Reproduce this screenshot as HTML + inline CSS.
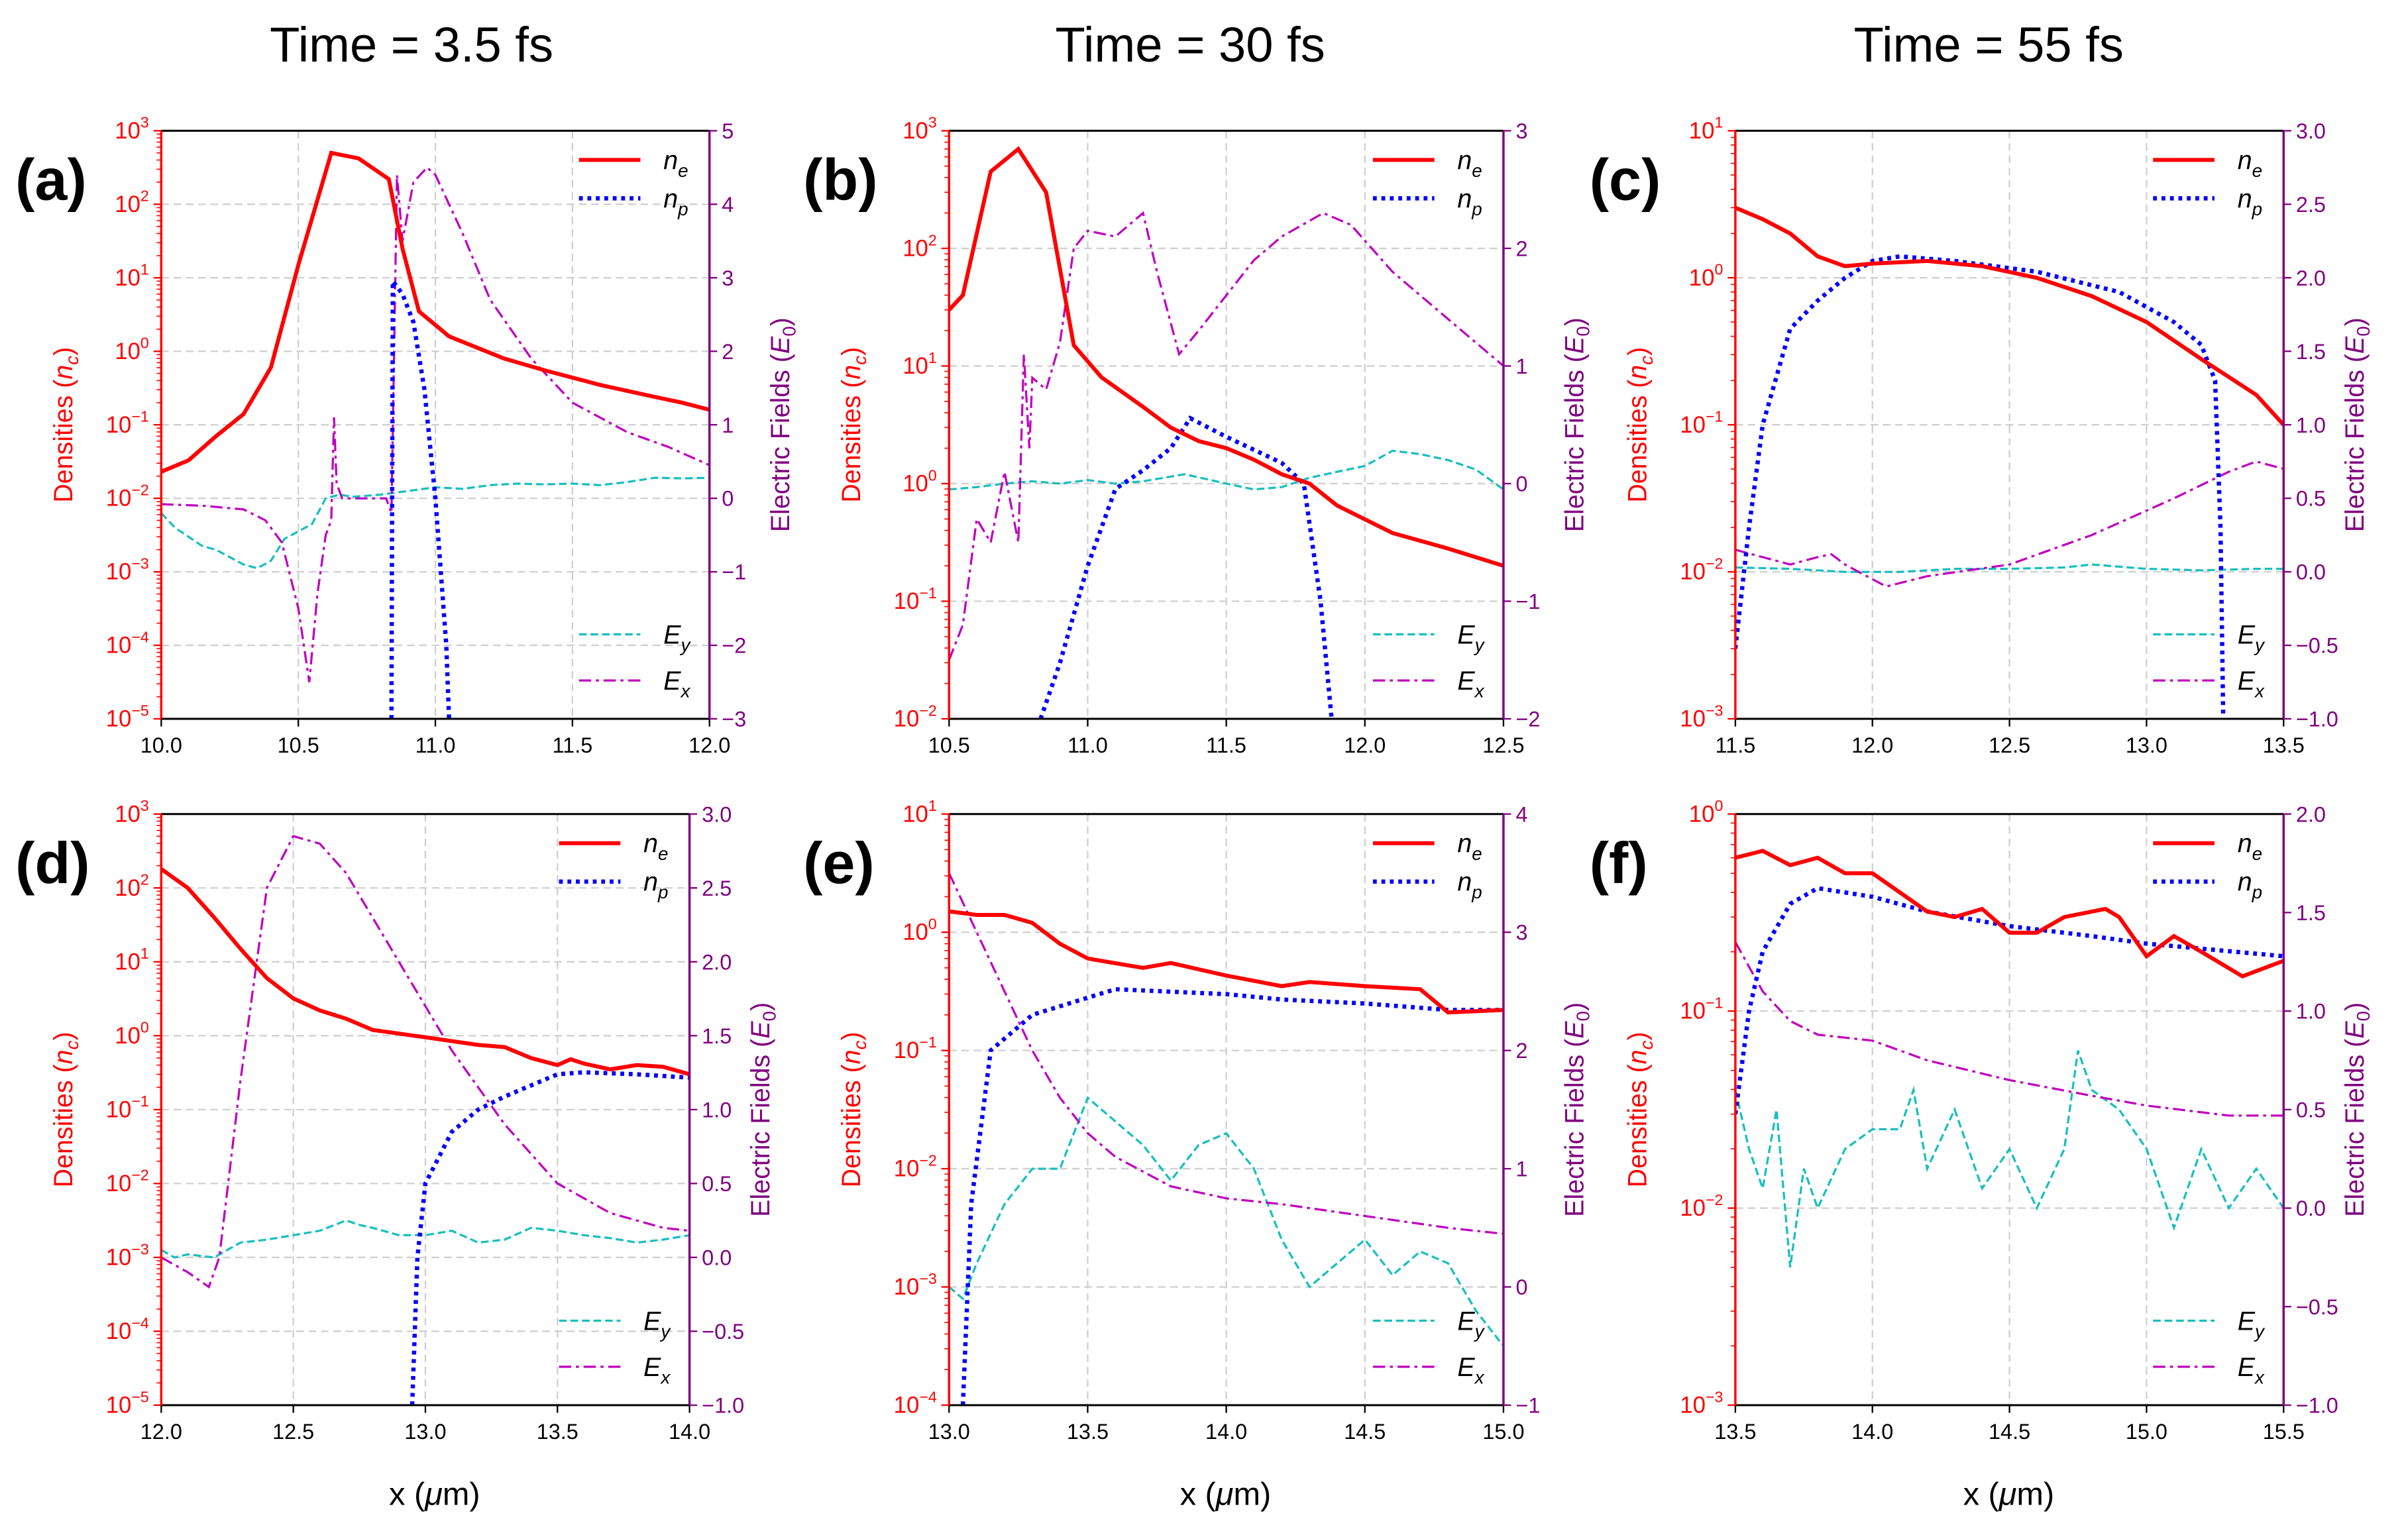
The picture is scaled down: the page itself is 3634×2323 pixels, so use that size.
<!DOCTYPE html>
<html><head><meta charset="utf-8"><style>
html,body{margin:0;padding:0;background:#fff;}
svg{display:block;font-family:"Liberation Sans","DejaVu Sans",sans-serif;}
</style></head><body>
<svg id="fig" width="3634" height="2323" viewBox="0 0 1568 1002" xmlns="http://www.w3.org/2000/svg">
<rect width="1568" height="1002" fill="#fff"/>
<text x="268" y="40" font-size="32" text-anchor="middle">Time = 3.5 fs</text>
<text x="775" y="40" font-size="32" text-anchor="middle">Time = 30 fs</text>
<text x="1295" y="40" font-size="32" text-anchor="middle">Time = 55 fs</text>
<text x="283" y="980" font-size="21" text-anchor="middle">x (<tspan font-style="italic">μ</tspan>m)</text>
<text x="798" y="980" font-size="21" text-anchor="middle">x (<tspan font-style="italic">μ</tspan>m)</text>
<text x="1308" y="980" font-size="21" text-anchor="middle">x (<tspan font-style="italic">μ</tspan>m)</text>
</svg>
<script>
// ---- panel (a) data ----
const aNeX=[10.0,10.1,10.2,10.3,10.4,10.5,10.62,10.72,10.83,10.88,10.94,11.05,11.25,11.4,11.6,11.8,11.9,12.0];
const aNeY=[0.023,0.033,0.07,0.14,0.6,15,500,420,220,25,3.5,1.6,0.8,0.55,0.35,0.24,0.2,0.16];
const aNpX=[10.84,10.845,10.88,10.92,10.96,11.0,11.04,11.05];
const aNpY=[1e-5,9,6,2.5,0.3,0.01,1e-4,1e-5];
const aExX=[10.0,10.15,10.3,10.38,10.44,10.5,10.54,10.57,10.6,10.62,10.63,10.64,10.66,10.75,10.82,10.84,10.86,10.88,10.92,10.97,11.0,11.1,11.2,11.35,11.5,11.7,11.85,12.0];
const aExY=[-0.08,-0.1,-0.15,-0.3,-0.6,-1.5,-2.5,-1.3,-0.5,-0.3,1.1,0.2,0.0,0.0,0.0,-0.2,4.4,3.5,4.3,4.5,4.4,3.6,2.7,1.9,1.3,0.9,0.7,0.45];
const aEyX=[10.0,10.05,10.15,10.2,10.25,10.3,10.35,10.4,10.45,10.5,10.55,10.6,10.65,10.7,10.8,10.9,11.0,11.1,11.2,11.3,11.4,11.5,11.6,11.7,11.8,11.9,12.0];
const aEyY=[-0.2,-0.4,-0.65,-0.7,-0.8,-0.9,-0.95,-0.85,-0.55,-0.45,-0.35,0.0,0.05,0.02,0.05,0.1,0.15,0.13,0.18,0.2,0.19,0.2,0.18,0.22,0.28,0.27,0.28];
// ---- panel (b) data ----
const bNeX=[10.5,10.55,10.65,10.75,10.85,10.95,11.05,11.2,11.3,11.4,11.5,11.6,11.7,11.8,11.9,12.1,12.3,12.5];
const bNeY=[30,40,450,700,300,15,8,4.5,3,2.3,2,1.6,1.2,1,0.65,0.38,0.28,0.2];
const bNpX=[10.83,10.9,11.0,11.1,11.2,11.3,11.37,11.5,11.7,11.78,11.84,11.88];
const bNpY=[0.01,0.03,0.2,0.9,1.3,2,3.6,2.5,1.5,1,0.1,0.01];
const bExX=[10.5,10.55,10.6,10.65,10.7,10.75,10.77,10.79,10.8,10.85,10.9,10.95,11.0,11.1,11.2,11.25,11.33,11.4,11.5,11.6,11.7,11.85,11.95,12.1,12.3,12.5];
const bExY=[-1.5,-1.2,-0.3,-0.5,0.1,-0.5,1.1,0.3,0.9,0.8,1.2,2.0,2.15,2.1,2.3,1.8,1.1,1.3,1.6,1.9,2.1,2.3,2.2,1.8,1.4,1.0];
const bEyX=[10.5,10.6,10.7,10.8,10.9,11.0,11.1,11.2,11.35,11.5,11.6,11.7,11.8,11.9,12.0,12.1,12.2,12.3,12.4,12.5];
const bEyY=[-0.05,-0.03,0.0,0.02,0.0,0.03,0.0,0.02,0.08,0.0,-0.05,-0.03,0.05,0.1,0.15,0.28,0.25,0.2,0.12,-0.05];
// ---- panel (c) data ----
const cNeX=[11.5,11.6,11.7,11.8,11.9,12.0,12.2,12.4,12.6,12.8,13.0,13.2,13.4,13.5];
const cNeY=[3,2.5,2,1.4,1.2,1.25,1.3,1.2,1,0.75,0.5,0.28,0.16,0.1];
const cNpX=[11.5,11.55,11.6,11.7,11.8,11.9,12.0,12.1,12.3,12.6,12.9,13.1,13.2,13.25,13.27,13.28];
const cNpY=[0.003,0.02,0.1,0.45,0.7,1.0,1.3,1.4,1.3,1.1,0.8,0.5,0.35,0.2,0.02,0.001];
const cExX=[11.5,11.6,11.7,11.8,11.85,11.9,11.95,12.05,12.2,12.5,12.8,13.1,13.3,13.4,13.5];
const cExY=[0.15,0.1,0.05,0.1,0.12,0.05,0.0,-0.1,-0.03,0.05,0.25,0.5,0.68,0.75,0.7];
const cEyX=[11.5,11.7,11.9,12.1,12.3,12.5,12.7,12.8,13.0,13.2,13.4,13.5];
const cEyY=[0.03,0.02,0.0,0.0,0.02,0.02,0.03,0.05,0.02,0.01,0.02,0.02];
// ---- panel (d) data ----
const dNeX=[12.0,12.1,12.2,12.3,12.4,12.5,12.6,12.7,12.8,13.0,13.2,13.3,13.4,13.5,13.55,13.6,13.7,13.8,13.9,14.0];
const dNeY=[180,100,40,15,6,3.2,2.2,1.7,1.2,0.95,0.75,0.7,0.5,0.4,0.48,0.42,0.35,0.4,0.38,0.3];
const dNpX=[12.95,12.97,13.0,13.1,13.2,13.3,13.5,13.6,13.8,14.0];
const dNpY=[1e-5,0.001,0.01,0.05,0.1,0.15,0.3,0.32,0.3,0.27];
const dExX=[12.0,12.1,12.18,12.22,12.3,12.4,12.5,12.6,12.7,12.9,13.1,13.3,13.5,13.7,13.9,14.0];
const dExY=[0.0,-0.1,-0.2,0.0,1.2,2.5,2.85,2.8,2.6,2.0,1.4,0.9,0.5,0.3,0.2,0.18];
const dEyX=[12.0,12.05,12.1,12.2,12.3,12.4,12.5,12.6,12.7,12.75,12.8,12.9,13.0,13.1,13.2,13.3,13.4,13.5,13.6,13.7,13.8,13.9,14.0];
const dEyY=[0.05,0.0,0.02,0.0,0.1,0.12,0.15,0.18,0.25,0.22,0.2,0.15,0.15,0.18,0.1,0.12,0.2,0.18,0.15,0.13,0.1,0.12,0.15];
// ---- panel (e) data ----
const eNeX=[13.0,13.1,13.2,13.3,13.4,13.5,13.7,13.8,14.0,14.2,14.3,14.5,14.7,14.8,15.0];
const eNeY=[1.5,1.4,1.4,1.2,0.8,0.6,0.5,0.55,0.43,0.35,0.38,0.35,0.33,0.21,0.22];
const eNpX=[13.05,13.08,13.15,13.3,13.5,13.6,14.0,14.2,14.5,14.8,15.0];
const eNpY=[1e-4,0.005,0.1,0.2,0.28,0.33,0.3,0.27,0.25,0.22,0.22];
const eExX=[13.0,13.1,13.2,13.3,13.4,13.5,13.6,13.8,14.0,14.2,14.5,14.8,15.0];
const eExY=[3.5,3.0,2.5,2.0,1.6,1.3,1.1,0.85,0.75,0.7,0.6,0.5,0.45];
const eEyX=[13.0,13.05,13.1,13.2,13.3,13.4,13.5,13.6,13.7,13.8,13.9,14.0,14.1,14.2,14.3,14.4,14.5,14.6,14.7,14.8,14.9,15.0];
const eEyY=[0.0,-0.1,0.2,0.7,1.0,1.0,1.6,1.4,1.2,0.9,1.2,1.3,1.0,0.4,0.0,0.2,0.4,0.1,0.3,0.2,-0.2,-0.5];
// ---- panel (f) data ----
const fNeX=[13.5,13.6,13.7,13.8,13.9,14.0,14.2,14.3,14.4,14.5,14.6,14.7,14.85,14.9,15.0,15.1,15.2,15.35,15.5];
const fNeY=[0.6,0.65,0.55,0.6,0.5,0.5,0.32,0.3,0.33,0.25,0.25,0.3,0.33,0.3,0.19,0.24,0.2,0.15,0.18];
const fNpX=[13.5,13.55,13.6,13.7,13.8,14.0,14.2,14.5,14.8,15.0,15.5];
const fNpY=[0.03,0.1,0.2,0.35,0.42,0.38,0.32,0.27,0.24,0.22,0.19];
const fExX=[13.5,13.6,13.7,13.8,14.0,14.2,14.5,14.8,15.0,15.3,15.5];
const fExY=[1.35,1.1,0.95,0.88,0.85,0.75,0.65,0.57,0.52,0.47,0.47];
const fEyX=[13.5,13.55,13.6,13.65,13.7,13.75,13.8,13.9,14.0,14.1,14.15,14.2,14.3,14.4,14.5,14.6,14.7,14.75,14.8,14.9,15.0,15.1,15.2,15.3,15.4,15.5];
const fEyY=[0.6,0.3,0.1,0.5,-0.3,0.2,0.0,0.3,0.4,0.4,0.6,0.2,0.5,0.1,0.3,0.0,0.3,0.8,0.6,0.5,0.3,-0.1,0.3,0.0,0.2,0.0];

const NS='http://www.w3.org/2000/svg';
const svg=document.getElementById('fig');
function mk(tag,attrs,parent){const e=document.createElementNS(NS,tag);for(const k in attrs)e.setAttribute(k,attrs[k]);(parent||svg).appendChild(e);return e;}

const panels=[
 {id:'a',L:105,R:462,T:85,B:468,x0:10,x1:12,xt:[10,10.5,11,11.5,12],lmin:-5,lmax:3,r0:-3,r1:5,rs:1,d:[aNeX,aNeY,aNpX,aNpY,aExX,aExY,aEyX,aEyY]},
 {id:'b',L:618,R:979,T:85,B:468,x0:10.5,x1:12.5,xt:[10.5,11,11.5,12,12.5],lmin:-2,lmax:3,r0:-2,r1:3,rs:1,d:[bNeX,bNeY,bNpX,bNpY,bExX,bExY,bEyX,bEyY]},
 {id:'c',L:1130,R:1487,T:85,B:468,x0:11.5,x1:13.5,xt:[11.5,12,12.5,13,13.5],lmin:-3,lmax:1,r0:-1,r1:3,rs:0.5,d:[cNeX,cNeY,cNpX,cNpY,cExX,cExY,cEyX,cEyY]},
 {id:'d',L:105,R:449,T:530,B:915,x0:12,x1:14,xt:[12,12.5,13,13.5,14],lmin:-5,lmax:3,r0:-1,r1:3,rs:0.5,d:[dNeX,dNeY,dNpX,dNpY,dExX,dExY,dEyX,dEyY]},
 {id:'e',L:618,R:979,T:530,B:915,x0:13,x1:15,xt:[13,13.5,14,14.5,15],lmin:-4,lmax:1,r0:-1,r1:4,rs:1,d:[eNeX,eNeY,eNpX,eNpY,eExX,eExY,eEyX,eEyY]},
 {id:'f',L:1130,R:1487,T:530,B:915,x0:13.5,x1:15.5,xt:[13.5,14,14.5,15,15.5],lmin:-3,lmax:0,r0:-1,r1:2,rs:0.5,d:[fNeX,fNeY,fNpX,fNpY,fExX,fExY,fEyX,fEyY]}
];
const RED='#ff0000',PUR='#800080';
panels.forEach(p=>{
 const g=mk('g',{});
 
 
 const sx=v=>p.L+(v-p.x0)/(p.x1-p.x0)*(p.R-p.L);
 const sl=v=>p.B-(Math.log10(v)-p.lmin)/(p.lmax-p.lmin)*(p.B-p.T);
 const sr=v=>p.B-(v-p.r0)/(p.r1-p.r0)*(p.B-p.T);
 const clip='clip'+p.id;
 const cp=mk('clipPath',{id:clip},g);mk('rect',{x:p.L,y:p.T,width:p.R-p.L,height:p.B-p.T},cp);
 // grid
 p.xt.forEach(t=>{const l=mk('line',{x1:sx(t),x2:sx(t),y1:p.T,y2:p.B,stroke:'#d0d0d0','stroke-dasharray':'5,3','stroke-width':1},g);
  const tx=mk('text',{x:sx(t),y:p.B+22,'font-size':14,'text-anchor':'middle'},g);tx.textContent=t.toFixed(1);
  mk('line',{x1:sx(t),x2:sx(t),y1:p.B,y2:p.B+5,stroke:'#000'},g);});
 for(let e=p.lmin;e<=p.lmax;e++){const y=sl(Math.pow(10,e));
  if(e>p.lmin&&e<p.lmax){const l=mk('line',{x1:p.L,x2:p.R,y1:y,y2:y,stroke:'#d0d0d0','stroke-dasharray':'5,3','stroke-width':1},g);}
  mk('line',{x1:p.L-5,x2:p.L,y1:y,y2:y,stroke:RED},g);
  if(e<p.lmax)for(let m=2;m<10;m++){const ym=sl(m*Math.pow(10,e));mk('line',{x1:p.L-3,x2:p.L,y1:ym,y2:ym,stroke:RED,'stroke-width':0.7},g);}
  const tx=mk('text',{x:p.L-8,y:y+5,'font-size':15,'text-anchor':'end',fill:RED},g);
  tx.innerHTML='10<tspan dy="-7" font-size="10">'+(e<0?'\u2212'+(-e):e)+'</tspan>';}
 for(let v=p.r0;v<=p.r1+1e-9;v+=p.rs){const y=sr(v);mk('line',{x1:p.R,x2:p.R+5,y1:y,y2:y,stroke:PUR},g);
  const tx=mk('text',{x:p.R+8,y:y+5,'font-size':14,fill:PUR},g);tx.textContent=(v<0?'\u2212':'')+(p.rs<1?Math.abs(v).toFixed(1):Math.abs(v));}
 // series
 const [neX,neY,npX,npY,exX,exY,eyX,eyY]=p.d;
 const pathL=(X,Y)=>X.map((x,i)=>(i?'L':'M')+sx(x).toFixed(1)+','+sl(Y[i]).toFixed(1)).join('');
 const pathR=(X,Y)=>X.map((x,i)=>(i?'L':'M')+sx(x).toFixed(1)+','+sr(Y[i]).toFixed(1)).join('');
 const cg=mk('g',{'clip-path':'url(#'+clip+')',fill:'none'},g);
 let s;
 s=mk('path',{d:pathR(eyX,eyY),stroke:'#17bfbf','stroke-width':1.4,'stroke-dasharray':'5,2.5'},cg);
 s=mk('path',{d:pathR(exX,exY),stroke:'#bf00bf','stroke-width':1.4,'stroke-dasharray':'8,3,2,3'},cg);
 s=mk('path',{d:pathL(npX,npY),stroke:'#0000ff','stroke-width':2.8,'stroke-dasharray':'2.5,3'},cg);
 s=mk('path',{d:pathL(neX,neY),stroke:RED,'stroke-width':2.6},cg);
 // spines
 mk('line',{x1:p.L,x2:p.R,y1:p.T,y2:p.T,stroke:'#000','stroke-width':1.3},g);
 mk('line',{x1:p.L,x2:p.R,y1:p.B,y2:p.B,stroke:'#000','stroke-width':1.3},g);
 mk('line',{x1:p.L,x2:p.L,y1:p.T,y2:p.B,stroke:RED,'stroke-width':1.5},g);
 mk('line',{x1:p.R,x2:p.R,y1:p.T,y2:p.B,stroke:PUR,'stroke-width':1.5},g);
 // legends
 const leg=[['ne',RED,'',2.6,p.T+19,'n','e'],['np','#0000ff','2.5,3',2.8,p.T+44,'n','p'],['ey','#17bfbf','5,2.5',1.4,p.B-55,'E','y'],['ex','#bf00bf','8,3,2,3',1.4,p.B-25,'E','x']];
 leg.forEach(l=>{const lg=mk('g',{},g);
  mk('line',{x1:p.R-85,x2:p.R-45,y1:l[4],y2:l[4],stroke:l[1],'stroke-width':l[3],'stroke-dasharray':l[2]},lg);
  const t=mk('text',{x:p.R-30,y:l[4]+6,'font-size':17,'font-style':'italic'},lg);t.innerHTML=l[5]+'<tspan dy="5" font-size="12">'+l[6]+'</tspan>';});
 // axis titles
 const cy=(p.T+p.B)/2;
 const yl=mk('text',{x:0,y:0,'font-size':17,fill:RED,'text-anchor':'middle',transform:'translate('+(p.L-58)+','+cy+') rotate(-90)'},g);
 yl.innerHTML='Densities (<tspan font-style="italic">n</tspan><tspan dy="4" font-size="12" font-style="italic">c</tspan><tspan dy="-4">)</tspan>';
 
 const yr=mk('text',{x:0,y:0,'font-size':17,fill:PUR,'text-anchor':'middle',transform:'translate('+(p.R+52)+','+cy+') rotate(-90)'},g);
 yr.innerHTML='Electric Fields (<tspan font-style="italic">E</tspan><tspan dy="4" font-size="12">0</tspan><tspan dy="-4">)</tspan>';
 
 const pl=mk('text',{x:p.L-95,y:p.T+45,'font-size':38,'font-weight':'bold'},g);pl.textContent='('+p.id+')';
 
});
</script>
</body></html>
